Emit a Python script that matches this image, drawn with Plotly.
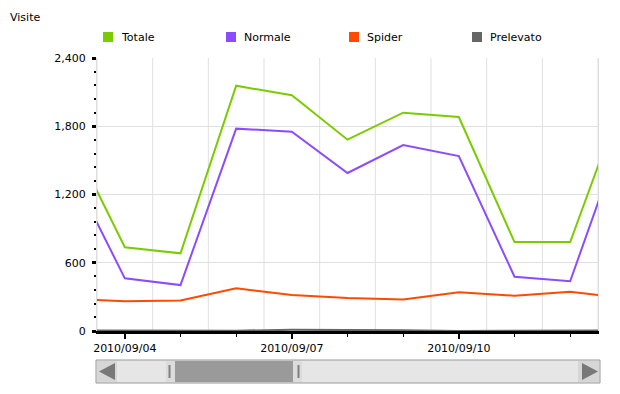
import plotly.graph_objects as go
import pandas as pd

dates = ["2010-09-03", "2010-09-04", "2010-09-05", "2010-09-06", "2010-09-07", "2010-09-08",
         "2010-09-09", "2010-09-10", "2010-09-11", "2010-09-12", "2010-09-13"]
totale = [1726, 736, 683, 2156, 2072, 1682, 1919, 1881, 782, 782, 2118]
normale = [1441, 463, 404, 1779, 1752, 1389, 1635, 1538, 477, 437, 1819]
spider = [282, 262, 268, 375, 316, 290, 277, 340, 310, 346, 286]
prelevato = [6, 5, 0, 3, 10, 9, 6, 0, 0, 5, 6]

series_names = ["Totale", "Normale", "Spider", "Prelevato"]
series_colors = ["#7ACC00", "#8B4CFF", "#FF4A00", "#666666"]
series_values = [totale, normale, spider, prelevato]

major_ticks = ["2010-09-04", "2010-09-07", "2010-09-10"]
major_labels = ["2010/09/04", "2010/09/07", "2010/09/10"]
y_ticks = [0, 600, 1200, 1800, 2400]
y_labels = ["0", "600", "1,200", "1,800", "2,400"]

# the page places the figure 8px in from the top-left (body margin)
OFF = 8
W, H = 620 - OFF, 394 - OFF
# target pixel positions in the window
L, R, T, B = 97, 598, 58, 331
FONT = "DejaVu Sans"


def px(x):
    return (x - L) / (R - L)


def py(y):
    return (B - y) / (B - T)


fig = go.Figure()
for name, color, vals in reversed(list(zip(series_names, series_colors, series_values))):
    fig.add_trace(go.Scatter(x=dates, y=vals, mode="lines", name=name,
                             line=dict(color=color, width=2), showlegend=False,
                             hoverinfo="skip"))

shapes = []
half_days = [pd.Timestamp(d) + pd.Timedelta(hours=12) for d in dates]
for hd in half_days:
    shapes.append(dict(type="line", xref="x", yref="paper", x0=hd, x1=hd, y0=0, y1=1,
                       line=dict(color="#e0e0e0", width=1), layer="below"))

leg_x = [103, 226, 349, 472]
annotations = []
for i, (name, color) in enumerate(zip(series_names, series_colors)):
    x0 = leg_x[i]
    shapes.append(dict(type="rect", xref="paper", yref="paper",
                       x0=px(x0), x1=px(x0 + 10), y0=py(42), y1=py(32),
                       fillcolor=color, line=dict(width=0)))
    annotations.append(dict(xref="paper", yref="paper", x=px(x0 + 16), y=py(37),
                            text=name, showarrow=False, xanchor="left", yanchor="middle",
                            font=dict(family=FONT, size=11, color="#000")))

annotations.append(dict(xref="paper", yref="paper", x=px(8), y=py(17), text="Visite",
                        showarrow=False, xanchor="left", yanchor="middle",
                        font=dict(family=FONT, size=11, color="#000")))

# scrollbar
shapes.append(dict(type="rect", xref="paper", yref="paper", x0=px(96), x1=px(600),
                   y0=py(383), y1=py(360), fillcolor="#e6e6e6",
                   line=dict(color="#999999", width=1)))
for bx0, bx1 in [(97, 117), (578, 599)]:
    shapes.append(dict(type="rect", xref="paper", yref="paper", x0=px(bx0), x1=px(bx1),
                       y0=py(382), y1=py(361), fillcolor="#d6d6d6", line=dict(width=0)))


def path(points):
    return "M " + " L ".join(f"{px(a):.5f},{py(b):.5f}" for a, b in points) + " Z"


shapes.append(dict(type="path", xref="paper", yref="paper",
                   path=path([(99, 371.5), (115, 363), (115, 380)]),
                   fillcolor="#787878", line=dict(width=0)))
shapes.append(dict(type="path", xref="paper", yref="paper",
                   path=path([(598, 371.5), (582, 363), (582, 380)]),
                   fillcolor="#787878", line=dict(width=0)))
shapes.append(dict(type="rect", xref="paper", yref="paper", x0=px(175), x1=px(293),
                   y0=py(382), y1=py(361), fillcolor="#9a9a9a", line=dict(width=0)))
for gx0, gx1, lx in [(166, 175, 169.5), (293, 302, 298.5)]:
    shapes.append(dict(type="rect", xref="paper", yref="paper", x0=px(gx0), x1=px(gx1),
                       y0=py(382), y1=py(361), fillcolor="#dcdcdc", line=dict(width=0)))
    shapes.append(dict(type="line", xref="paper", yref="paper", x0=px(lx), x1=px(lx),
                       y0=py(378), y1=py(365), line=dict(color="#808080", width=2)))

fig.update_layout(
    width=W, height=H,
    margin=dict(l=L - OFF, r=620 - R, t=T - OFF, b=394 - B, pad=0),
    paper_bgcolor="white", plot_bgcolor="white",
    showlegend=False,
    font=dict(family=FONT, size=11, color="#000"),
    shapes=shapes,
    annotations=annotations,
    xaxis=dict(
        type="date",
        range=["2010-09-03 12:00", "2010-09-12 12:00"],
        tickvals=major_ticks, ticktext=major_labels,
        ticks="outside", ticklen=5, tickwidth=2, tickcolor="#000",
        showgrid=False, zeroline=False,
        showline=True, linecolor="#000", linewidth=3,
        tickfont=dict(family=FONT, size=11, color="#000"),
        minor=dict(dtick=86400000, tick0="2010-09-04", ticks="outside", ticklen=3,
                   tickwidth=1, tickcolor="#000", showgrid=False),
        fixedrange=True,
    ),
    yaxis=dict(
        range=[0, 2400],
        tickvals=y_ticks, ticktext=y_labels,
        ticks="outside", ticklen=4, tickwidth=3, tickcolor="#000",
        showgrid=True, gridcolor="#e0e0e0", gridwidth=1,
        zeroline=False,
        showline=True, linecolor="#dddddd", linewidth=1, mirror=True,
        tickfont=dict(family=FONT, size=11, color="#000"),
        ticklabelstandoff=4,
        minor=dict(dtick=120, ticks="outside", ticklen=2, tickwidth=2,
                   tickcolor="#000", showgrid=False),
        fixedrange=True,
    ),
)

fig.write_html("out.html")
